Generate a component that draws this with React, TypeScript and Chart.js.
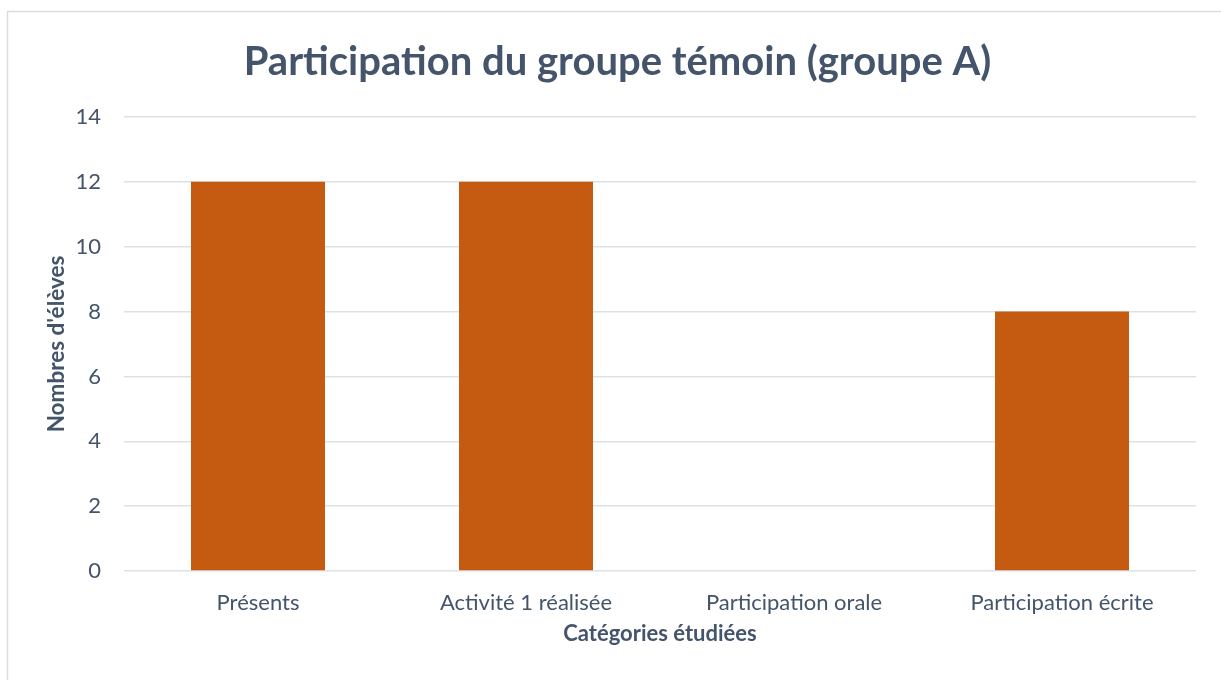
import React, { useEffect, useRef } from "react";
import { Chart, registerables } from "chart.js";

Chart.register(...registerables);

const categories: string[] = ["Présents", "Activité 1 réalisée", "Participation orale", "Participation écrite"];
const values: number[] = [12, 12, 0, 8];
const chartTitle = "Participation du groupe témoin (groupe A)";
const yTitle = "Nombres d'élèves";
const xTitle = "Catégories étudiées";

const W = 1221;
const H = 680;
const FONT = "Lato, 'Open Sans', sans-serif";
const TEXT = "#44546A";

const frame = {
  id: "frame",
  beforeDraw(chart: any) {
    const ctx = chart.ctx;
    ctx.save();
    ctx.fillStyle = "#ffffff";
    ctx.fillRect(0, 0, chart.width, chart.height);
    ctx.strokeStyle = "#D9DEE4";
    ctx.lineWidth = 1.5;
    ctx.beginPath();
    ctx.moveTo(W, 11.5);
    ctx.lineTo(7.5, 11.5);
    ctx.lineTo(7.5, H);
    ctx.stroke();
    ctx.restore();
  },
};

export default function App() {
  const ref = useRef<HTMLCanvasElement | null>(null);
  useEffect(() => {
    if (!ref.current) return;
    const chart = new Chart(ref.current, {
      type: "bar",
      data: {
        labels: categories,
        datasets: [
          {
            data: values,
            backgroundColor: "#C55A11",
            borderWidth: 0,
            barPercentage: 0.5,
            categoryPercentage: 1,
          },
        ],
      },
      options: {
        responsive: false,
        animation: false,
        layout: { padding: { left: 39, right: 25, top: 0, bottom: 0 } },
        plugins: {
          legend: { display: false },
          tooltip: { enabled: false },
          title: {
            display: true,
            text: chartTitle,
            color: TEXT,
            font: { family: FONT, size: 40, weight: "bold", lineHeight: 1.2 },
            padding: { top: 38, bottom: 31 },
          },
        },
        scales: {
          x: {
            afterFit: (s: any) => {
              s.height = 109;
            },
            grid: { display: false, drawTicks: false },
            border: { display: false },
            ticks: {
              color: TEXT,
              font: { family: FONT, size: 22 },
              padding: 18.5,
              maxRotation: 0,
              autoSkip: false,
            },
            title: {
              display: true,
              text: xTitle,
              color: TEXT,
              font: { family: FONT, size: 22, weight: "bold", lineHeight: 1.2 },
              padding: { top: 0, bottom: 33 },
            },
          },
          y: {
            min: 0,
            max: 14,
            afterFit: (s: any) => {
              s.width = 85;
            },
            grid: { color: "#DDE1E6", lineWidth: 1.5, drawTicks: false },
            border: { display: false },
            ticks: {
              stepSize: 2,
              color: TEXT,
              font: { family: FONT, size: 22 },
              padding: 23,
            },
            title: {
              display: true,
              text: yTitle,
              color: TEXT,
              font: { family: FONT, size: 22.5, weight: "bold", lineHeight: 1.2 },
              padding: { top: 4.5, bottom: 0 },
            },
          },
        },
      },
      plugins: [frame],
    } as any);
    return () => chart.destroy();
  }, []);
  return (
    <div style={{ position: "fixed", left: 0, top: 0, width: W, height: H, background: "#fff" }}>
      <canvas ref={ref} width={W} height={H} style={{ display: "block" }} />
    </div>
  );
}
